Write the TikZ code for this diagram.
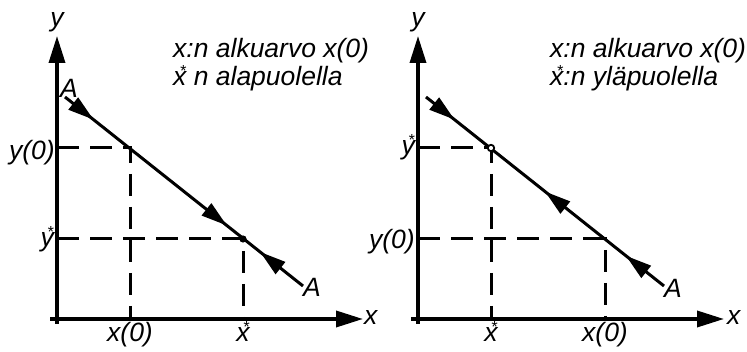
\documentclass[tikz,border=0pt]{standalone}
\usepackage{fontspec}
\setmainfont{Liberation Sans}
\usetikzlibrary{arrows.meta,decorations.markings}
\newcommand\stx[1]{#1\llap{\raisebox{9.5pt}{\fontsize{16}{16}\selectfont *}\kern0.5pt}}
\tikzset{flowtip/.tip={Triangle[length=26pt,width=15pt]}}
\begin{document}
\begin{tikzpicture}[x=1pt,y=-1pt,
  axis/.style={line width=3.5pt,-{Triangle[length=27pt,width=16pt]}},
  traj/.style={line width=3pt},
  guide/.style={line width=3pt,dash pattern=on 22pt off 11pt},
  lbl/.style={font=\fontsize{26.5}{30}\selectfont\itshape,inner sep=0pt}]
\useasboundingbox (0,0) rectangle (747,352);
% ---------- left panel ----------
\coordinate (yb1) at (57,324);
\coordinate (yt1) at (57,36);
\coordinate (xb1) at (50,319);
\coordinate (xt1) at (363,319);
\coordinate (s1) at (65,97);
\coordinate (e1) at (303,286);
\coordinate (ya1) at (57,148);
\coordinate (p1) at (130,148);
\coordinate (xa1) at (130,319);
\coordinate (yc1) at (57,239);
\coordinate (q1) at (243,239);
\coordinate (xc1) at (243,319);
\draw[guide] (ya1) -- (p1) -- (xa1);
\draw[guide] (yc1) -- (q1) -- (xc1);
\draw[axis] (yb1) -- (yt1);
\draw[axis] (xb1) -- (xt1);
\draw[traj, postaction=decorate, decoration={markings,
  mark=at position 0.12 with {\arrow{flowtip}},
  mark=at position 0.68 with {\arrow{flowtip}},
  mark=at position 0.82 with {\arrowreversed{flowtip}}}] (s1) -- (e1);
\fill (q1) circle (3.6pt);
\node[lbl, anchor=base] (ly1) at (57,27) {y};
\node[lbl, anchor=west] (lx1) at (364,318) {x};
\node[lbl, anchor=base] (la1) at (69,98) {A};
\node[lbl, anchor=base] (lb1) at (312,297) {A};
\node[lbl, anchor=base east] (ly01) at (55,160) {y(0)};
\node[lbl, anchor=base east] (lys1) at (54,247) {\stx{y}};
\node[lbl, anchor=base] (lx01) at (130,342) {x(0)};
\node[lbl, anchor=base] (lxs1) at (243,342) {\stx{x}};
\node[lbl, anchor=base west] (t11) at (173,58) {x:n alkuarvo x(0)};
\node[lbl, anchor=base west] (t12) at (173,86) {\stx{x} n alapuolella};
% ---------- right panel ----------
\coordinate (yb2) at (418,324);
\coordinate (yt2) at (418,36);
\coordinate (xb2) at (411,319);
\coordinate (xt2) at (724,319);
\coordinate (s2) at (426,97);
\coordinate (e2) at (664,286);
\coordinate (ya2) at (418,148);
\coordinate (p2) at (491,148);
\coordinate (xa2) at (491,319);
\coordinate (yc2) at (418,239);
\coordinate (q2) at (605,239);
\coordinate (xc2) at (605,319);
\draw[guide] (ya2) -- (p2) -- (xa2);
\draw[guide] (yc2) -- (q2) -- (xc2);
\draw[axis] (yb2) -- (yt2);
\draw[axis] (xb2) -- (xt2);
\draw[traj, postaction=decorate, decoration={markings,
  mark=at position 0.12 with {\arrow{flowtip}},
  mark=at position 0.50 with {\arrowreversed{flowtip}},
  mark=at position 0.84 with {\arrowreversed{flowtip}}}] (s2) -- (e2);
\draw[line width=1.8pt, fill=white] (p2) circle (3.2pt);
\node[lbl, anchor=base] (ly2) at (418,27) {y};
\node[lbl, anchor=west] (lx2) at (727,318) {x};
\node[lbl, anchor=base] (lb2) at (673,298) {A};
\node[lbl, anchor=base east] (lys2) at (415,155) {\stx{y}};
\node[lbl, anchor=base east] (ly02) at (415,249) {y(0)};
\node[lbl, anchor=base] (lxs2) at (491,342) {\stx{x}};
\node[lbl, anchor=base] (lx02) at (605,342) {x(0)};
\node[lbl, anchor=base west] (t21) at (550,58) {x:n alkuarvo x(0)};
\node[lbl, anchor=base west] (t22) at (550,86) {\stx{x}:n yläpuolella};
\end{tikzpicture}
\end{document}
